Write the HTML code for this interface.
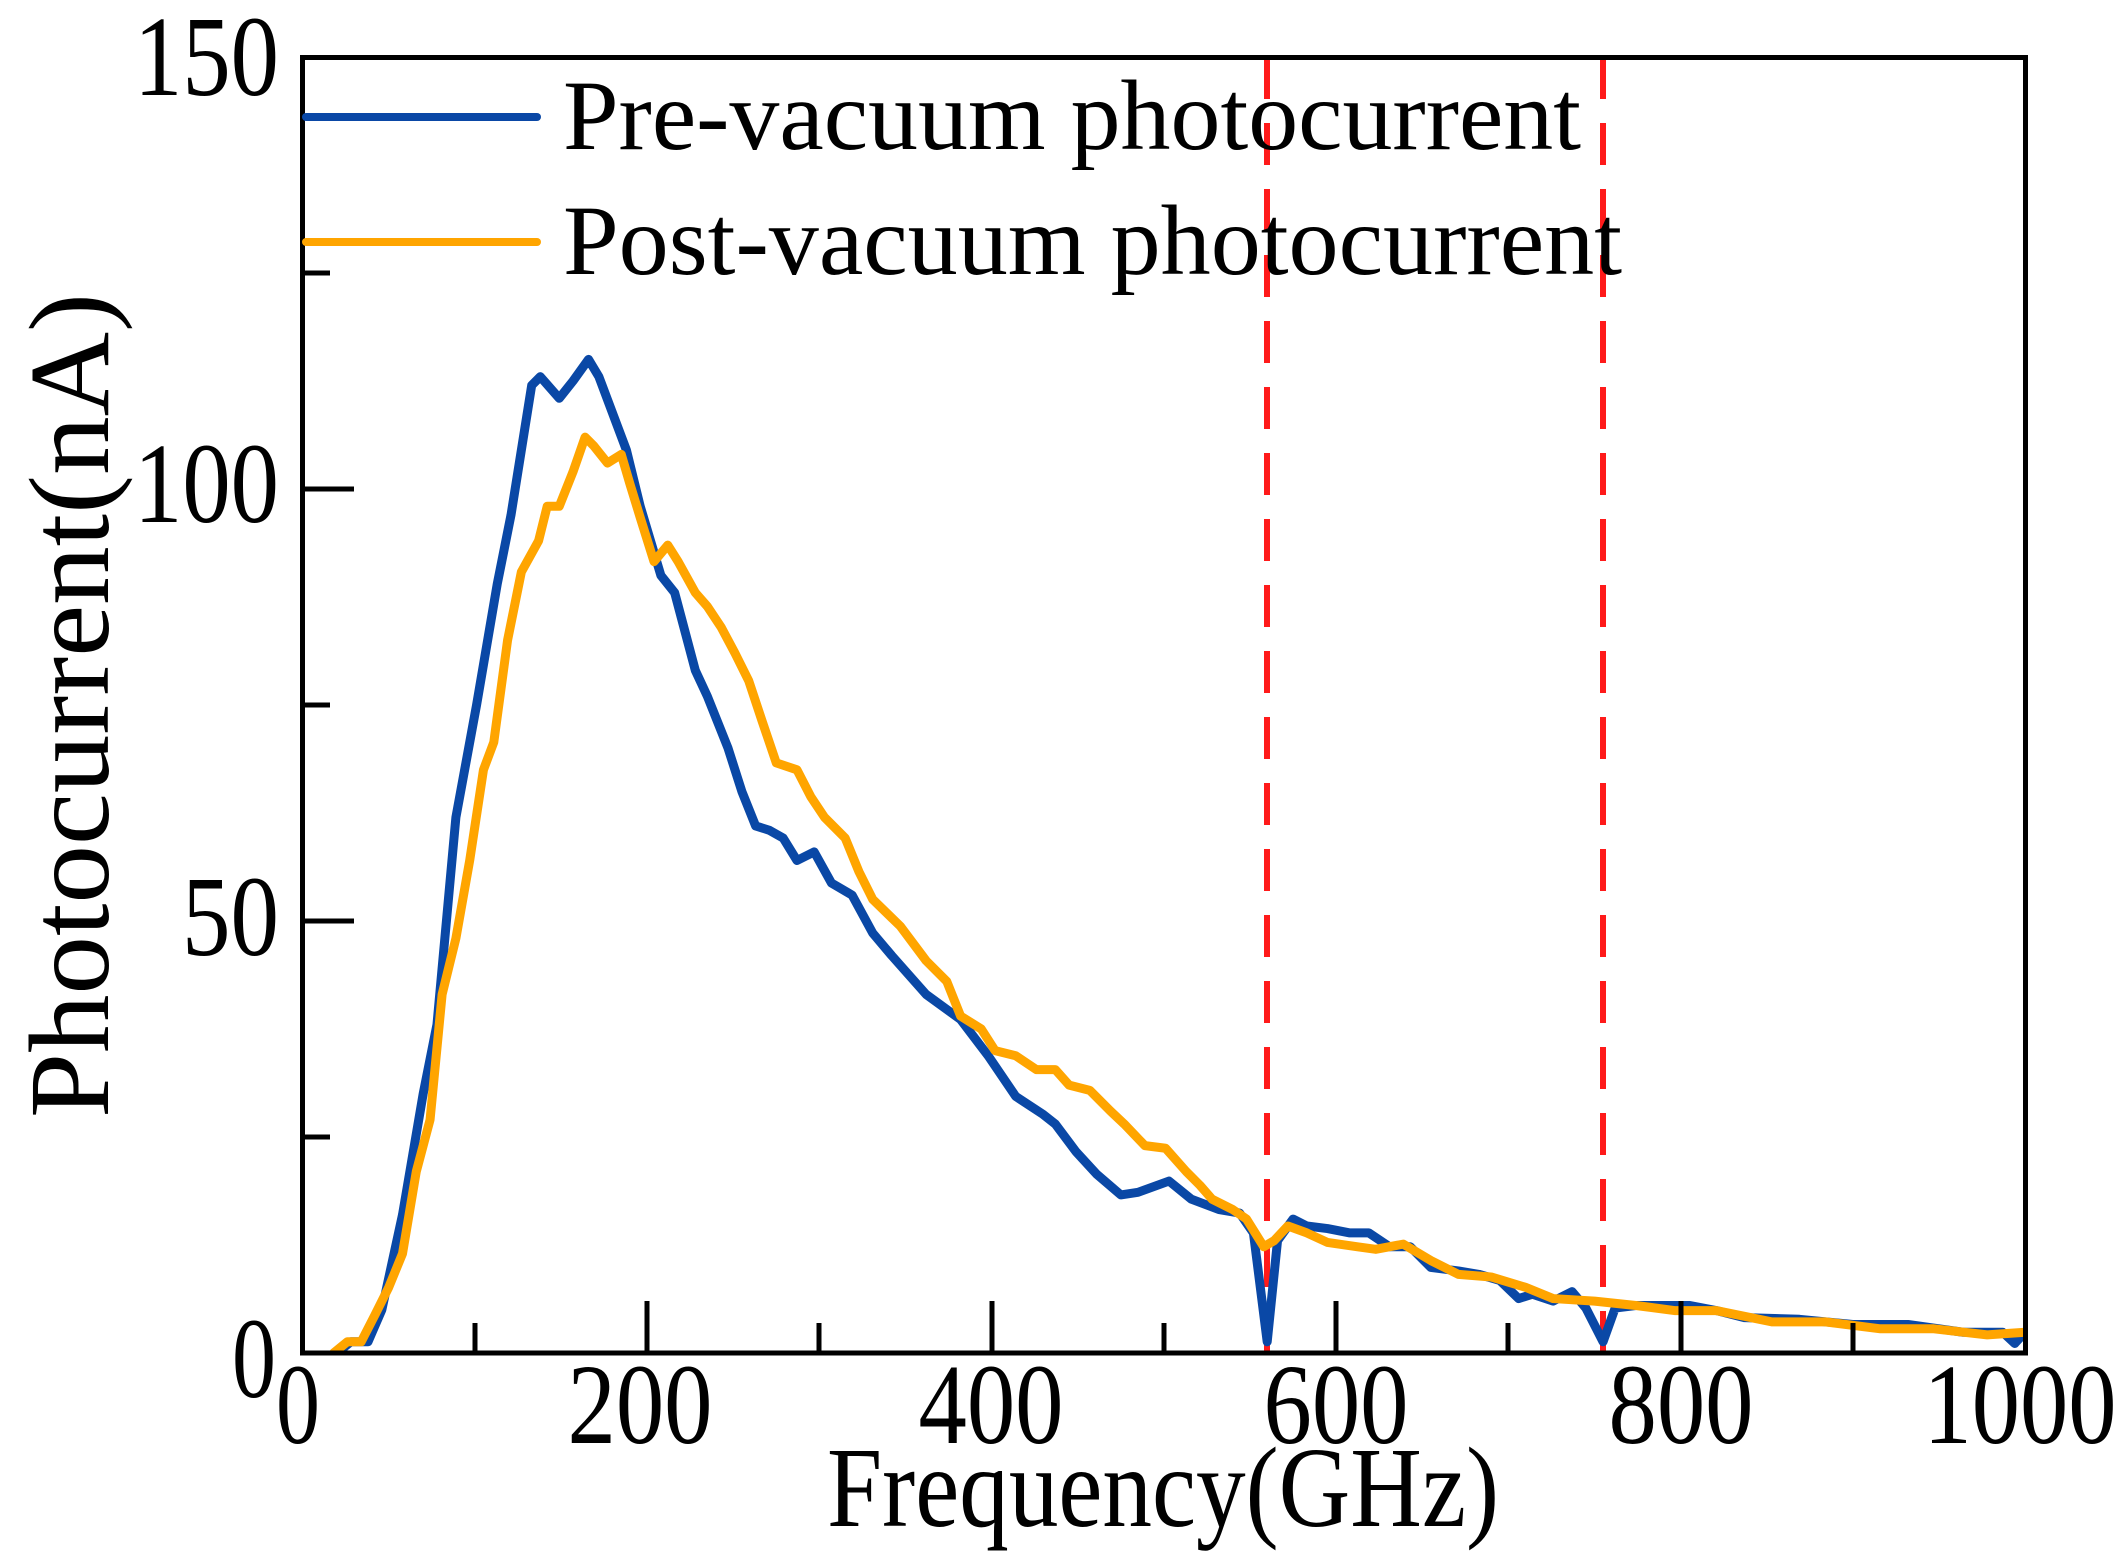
<!DOCTYPE html>
<html><head><meta charset="utf-8"><style>
html,body{margin:0;padding:0;background:#fff;}
svg{display:block;}
text{font-family:"Liberation Serif","DejaVu Serif",serif;fill:#000;}
</style></head><body>
<svg width="2125" height="1559" viewBox="0 0 2125 1559" xmlns="http://www.w3.org/2000/svg">
<defs><clipPath id="c"><rect x="302" y="57" width="1724" height="1296"/></clipPath></defs>
<rect width="2125" height="1559" fill="#fff"/>
<g clip-path="url(#c)">
<line x1="1267" y1="57" x2="1267" y2="1353" stroke="#ff1a1a" stroke-width="6" stroke-dasharray="42,24"/>
<line x1="1603" y1="57" x2="1603" y2="1353" stroke="#ff1a1a" stroke-width="6" stroke-dasharray="42,24"/>
<g transform="translate(302.6,1353) scale(1.7225,-8.64)" fill="none" stroke-linejoin="round" stroke-linecap="round">
<polyline vector-effect="non-scaling-stroke" stroke="#0a48a6" stroke-width="9" points="20,0 28,1.3 38,1.3 46,5 58,16 70,30 78,38 89,62 101,75 113,89 121,97 133,112 138,113 149,110.5 157,112.5 166,115 172,113 188,104.5 196,98 208,90 216,88 228,79 235,76 247,70 255,65 263,61 271,60.5 279,59.6 287,57 297,58 307,54.4 319,53 331,48.6 342,46 362,41.5 382,38.6 398,34.4 414,29.7 430,27.6 437,26.5 449,23.3 461,20.7 475,18.3 485,18.6 503,19.9 516,17.8 532,16.6 544,16.2 552,13.9 560,1.3 566,13 575,15.5 583,14.7 595,14.4 608,13.9 619,13.9 631,12.3 643,12.3 655,9.9 671,9.5 683,9.1 695,8.4 706,6.3 714,6.8 726,6 737,7.1 745,5.2 755,1.3 762,5.2 774,5.5 805,5.5 821,4.9 837,4.1 869,3.9 900,3.3 932,3.3 964,2.4 987,2.4 994,1.1 1000,2.4"/>
<polyline vector-effect="non-scaling-stroke" stroke="#ffa500" stroke-width="9" points="18,0 26,1.3 34,1.3 42,4.4 50,7.6 58,11.5 66,21 74,27 81,41.5 89,48 97,57 105,67.5 111,70.7 119,82.5 127,90.4 137,94 142,98 149,98 157,102 164,106 169,105 177,103 185,104 190,100.6 196,96.7 204,91.6 212,93.5 218,91.6 228,88 235,86.4 243,84 251,81 259,77.8 267,73 275,68.3 287,67.5 295,64.4 303,62 315,59.6 323,55.7 331,52.5 347,49.4 362,45.4 374,43 382,39 394,37.5 402,35 414,34.4 426,32.8 437,32.8 445,31 457,30.4 469,28 477,26.5 489,24 501,23.7 513,21 521,19.4 528,17.8 540,16.6 548,15.5 558,12.3 564,13 572,14.7 583,13.9 595,12.8 612,12.3 623,12 639,12.6 655,10.7 671,9.1 690,8.8 710,7.6 726,6.3 750,6 774,5.5 797,4.9 821,4.9 853,3.6 884,3.6 916,2.8 947,2.8 978,2.1 1000,2.4"/>
</g>
</g>
<rect x="302.5" y="57.5" width="1723" height="1295.5" fill="none" stroke="#000" stroke-width="5"/>
<g stroke="#000" stroke-width="5">
<line x1="647" y1="1353" x2="647" y2="1301"/><line x1="992" y1="1353" x2="992" y2="1301"/><line x1="1336" y1="1353" x2="1336" y2="1301"/><line x1="1681" y1="1353" x2="1681" y2="1301"/>
<line x1="475" y1="1353" x2="475" y2="1323"/><line x1="819" y1="1353" x2="819" y2="1323"/><line x1="1164" y1="1353" x2="1164" y2="1323"/><line x1="1508" y1="1353" x2="1508" y2="1323"/><line x1="1853" y1="1353" x2="1853" y2="1323"/>
<line x1="302" y1="921" x2="354" y2="921"/><line x1="302" y1="489" x2="354" y2="489"/>
<line x1="302" y1="1137" x2="330" y2="1137"/><line x1="302" y1="705" x2="330" y2="705"/><line x1="302" y1="273" x2="330" y2="273"/>
</g>
<g font-size="114" text-anchor="end">
<text x="279" y="95" textLength="145" lengthAdjust="spacingAndGlyphs">150</text>
<text x="279" y="522" textLength="145" lengthAdjust="spacingAndGlyphs">100</text>
<text x="279" y="955" textLength="97" lengthAdjust="spacingAndGlyphs">50</text>
<text x="276" y="1397" textLength="44" lengthAdjust="spacingAndGlyphs">0</text>
</g>
<g font-size="114" text-anchor="middle">
<text x="298" y="1443" textLength="44" lengthAdjust="spacingAndGlyphs">0</text>
<text x="640" y="1443" textLength="145" lengthAdjust="spacingAndGlyphs">200</text>
<text x="991" y="1443" textLength="145" lengthAdjust="spacingAndGlyphs">400</text>
<text x="1336" y="1443" textLength="145" lengthAdjust="spacingAndGlyphs">600</text>
<text x="1681" y="1443" textLength="145" lengthAdjust="spacingAndGlyphs">800</text>
<text x="2020" y="1443" textLength="193" lengthAdjust="spacingAndGlyphs">1000</text>
</g>
<text x="827" y="1526" font-size="114" textLength="672" lengthAdjust="spacingAndGlyphs">Frequency(GHz)</text>
<text transform="translate(108,1118) rotate(-90)" font-size="114" textLength="825" lengthAdjust="spacingAndGlyphs">Photocurrent(nA)</text>
<line x1="306" y1="117" x2="537" y2="117" stroke="#0a48a6" stroke-width="8" stroke-linecap="round"/>
<line x1="306" y1="242" x2="537" y2="242" stroke="#ffa500" stroke-width="8" stroke-linecap="round"/>
<text x="563" y="149" font-size="100" textLength="1018" lengthAdjust="spacingAndGlyphs">Pre-vacuum photocurrent</text>
<text x="563" y="274" font-size="100" textLength="1059" lengthAdjust="spacingAndGlyphs">Post-vacuum photocurrent</text>
</svg>
</body></html>
